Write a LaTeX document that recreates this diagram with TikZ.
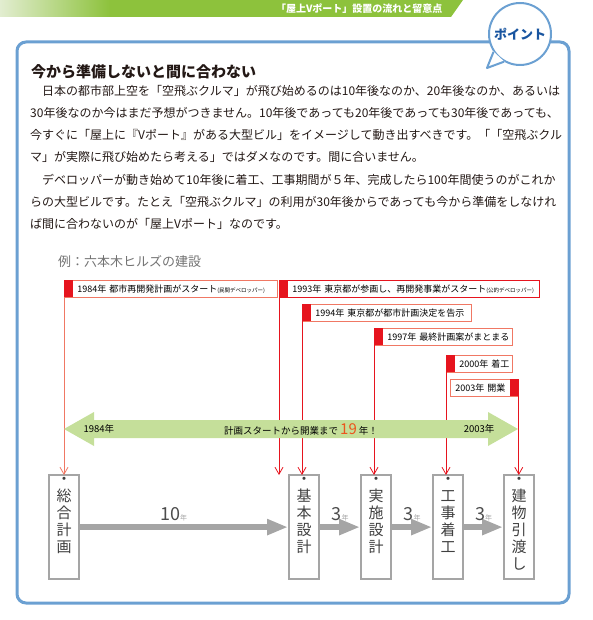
\documentclass[tikz,border=0pt]{standalone}
\usepackage{fontspec}
\setmainfont{Noto Sans CJK JP}
\usetikzlibrary{arrows.meta}

\definecolor{frameblue}{RGB}{107,160,210}
\definecolor{pointblue}{RGB}{25,85,160}
\definecolor{bannergreen}{RGB}{141,194,60}
\definecolor{bannerlight}{RGB}{226,237,208}
\definecolor{red1}{RGB}{230,20,30}
\definecolor{salmon1}{RGB}{240,120,100}
\definecolor{green2}{RGB}{197,223,154}
\definecolor{gray1}{RGB}{165,165,165}
\definecolor{text1}{RGB}{35,24,21}
\definecolor{orange1}{RGB}{235,85,30}

\tikzstyle{bodyline} = [anchor=west, inner sep=0pt, text=text1, font=\fontsize{12}{12}\selectfont]
\tikzstyle{event} = [draw=salmon1, line width=0.8pt, fill=white, inner xsep=2pt, inner ysep=0pt, minimum height=17pt, align=left, anchor=north west, font=\fontsize{9}{10}\selectfont]
\tikzstyle{flag} = [fill=red1, inner sep=0pt, minimum width=9pt, minimum height=17pt]
\tikzstyle{evline} = [draw=red1, line width=0.8pt, -{Straight Barb[length=7pt,width=8pt]}]
\tikzstyle{stepbox} = [draw=gray1, line width=2.2pt, fill=white, inner sep=0pt, minimum width=30pt, minimum height=104pt, anchor=north west, text=black!75, font=\fontsize{15}{17}\selectfont]
\tikzstyle{steparrow} = [draw=gray1, line width=6pt, -{Triangle[length=21pt,width=15pt]}]
\tikzstyle{steplabel} = [above, text=black!70, font=\fontsize{18}{18}\selectfont]

\newcommand{\tatecol}[1]{\parbox[c][100pt][t]{20pt}{\centering #1}}
\newcommand{\nen}{{\fontsize{7}{7}\selectfont\color{gray1}年}}
\newcommand{\kakko}[1]{{\fontsize{5.5}{6}\selectfont #1}}

\begin{document}
\begin{tikzpicture}[x=1pt, y=-1pt]
	\useasboundingbox (0,0) rectangle (592,620);

	% Banner
	\shade[left color=bannerlight, right color=bannergreen] (0,0) rectangle (110,17);
	\fill[bannergreen] (110,0) -- (463,0) -- (451,17) -- (110,17) -- cycle;
	\node[anchor=east, text=white, font=\fontsize{10}{10}\selectfont\bfseries] (banner) at (446,9) {「屋上Vポート」設置の流れと留意点};

	% Frame and bubble
	\draw[frameblue, line width=3pt, rounded corners=9pt] (17,42) rectangle (569,603);
	\node[circle, draw=frameblue, line width=2pt, fill=white, minimum size=62pt, text=pointblue, font=\fontsize{13}{13}\selectfont\bfseries] (point) at (520,34) {ポイント};
	\coordinate (tail) at (487,68);
	\fill[white] (point.212) -- (tail) -- (point.242) -- cycle;
	\draw[frameblue, line width=2pt, line join=round] (point.214) -- (tail) -- (point.240);

	% Text
	\node[anchor=west, inner sep=0pt, text=text1, font=\fontsize{15}{15}\selectfont\bfseries] (title) at (31,72) {今から準備しないと間に合わない};
	\node[bodyline] (l1) at (30,91) {　日本の都市部上空を「空飛ぶクルマ」が飛び始めるのは10年後なのか、20年後なのか、あるいは};
	\node[bodyline] (l2) at (30,113) {30年後なのか今はまだ予想がつきません。10年後であっても20年後であっても30年後であっても、};
	\node[bodyline] (l3) at (30,135) {今すぐに「屋上に『Vポート』がある大型ビル」をイメージして動き出すべきです。「「空飛ぶクル};
	\node[bodyline] (l4) at (30,157) {マ」が実際に飛び始めたら考える」ではダメなのです。間に合いません。};
	\node[bodyline] (l5) at (30,180) {　デベロッパーが動き始めて10年後に着工、工事期間が５年、完成したら100年間使うのがこれか};
	\node[bodyline] (l6) at (30,202) {らの大型ビルです。たとえ「空飛ぶクルマ」の利用が30年後からであっても今から準備をしなけれ};
	\node[bodyline] (l7) at (30,224) {ば間に合わないのが「屋上Vポート」なのです。};

	\node[anchor=west, inner sep=0pt, text=black!55, font=\fontsize{13}{13}\selectfont] (example) at (58,262) {例：六本木ヒルズの建設};

	% Events
	\node[event, text width=209pt] (ev84) at (64,280) {\mbox{\hspace*{11pt}1984年 都市再開発計画がスタート\kakko{(民間デベロッパー)}}};
	\node[event, draw=red1, text width=256pt] (ev93) at (279,280) {\mbox{\hspace*{11pt}1993年 東京都が参画し、再開発事業がスタート\kakko{(公的デベロッパー)}}};
	\node[event, text width=165pt] (ev94) at (302,304) {\mbox{\hspace*{11pt}1994年 東京都が都市計画決定を告示}};
	\node[event, text width=134pt] (ev97) at (374,328) {\mbox{\hspace*{11pt}1997年 最終計画案がまとまる}};
	\node[event, text width=62pt] (ev00) at (446,355) {\mbox{\hspace*{11pt}2000年 着工}};
	\node[event, text width=64pt] (ev03) at (450,379) {\mbox{\hspace*{3pt}2003年 開業}};
	\node[flag, anchor=north west] (fl84) at (ev84.north west) {};
	\node[flag, anchor=north west] (fl93) at (ev93.north west) {};
	\node[flag, anchor=north west] (fl94) at (ev94.north west) {};
	\node[flag, anchor=north west] (fl97) at (ev97.north west) {};
	\node[flag, anchor=north west] (fl00) at (ev00.north west) {};
	\node[flag, anchor=north east] (fl03) at (ev03.north east) {};

	% Steps
	\node[stepbox] (sogo) at (48,474) {\tatecol{・\\総\\合\\計\\画}};
	\node[stepbox] (kihon) at (288,474) {\tatecol{・\\基\\本\\設\\計}};
	\node[stepbox] (jisshi) at (360,474) {\tatecol{・\\実\\施\\設\\計}};
	\node[stepbox] (chakko) at (432,474) {\tatecol{・\\工\\事\\着\\工}};
	\node[stepbox] (hikiwatashi) at (503,474) {\tatecol{・\\建\\物\\引\\渡\\し}};

	\draw[evline, draw=salmon1] (fl84.south west) to ([yshift=-1pt] fl84.south west |- sogo.north);
	\draw[evline] (fl93.south west) to ([yshift=-1pt] fl93.south west |- kihon.north);
	\draw[evline] (fl94.south west) to ([yshift=-1pt] fl94.south west |- kihon.north);
	\draw[evline] (fl97.south west) to ([yshift=-1pt] fl97.south west |- jisshi.north);
	\draw[evline] (fl00.south west) to ([yshift=-1pt] fl00.south west |- chakko.north);
	\draw[evline] (fl03.south east) to ([yshift=-1pt] fl03.south east |- hikiwatashi.north);

	% Span
	\fill[green2] (64,429) -- (94,412) -- (94,420) -- (488,420) -- (488,412) -- (518,429) -- (488,446) -- (488,438) -- (94,438) -- (94,446) -- cycle;
	\node[anchor=west, font=\fontsize{9.5}{10}\selectfont] (y84) at (80,429) {1984年};
	\node[anchor=east, font=\fontsize{9.5}{10}\selectfont] (y03) at (498,429) {2003年};
	\node[font=\fontsize{9.5}{10}\selectfont] (span) at (301,429) {計画スタートから開業まで {\fontsize{15}{15}\selectfont\color{orange1}19} 年！};

	\draw[steparrow] (sogo.east) to node[steplabel, pos=0.45] {10\nen} (kihon.west);
	\draw[steparrow] (kihon.east) to node[steplabel] {3\nen} (jisshi.west);
	\draw[steparrow] (jisshi.east) to node[steplabel] {3\nen} (chakko.west);
	\draw[steparrow] (chakko.east) to node[steplabel] {3\nen} (hikiwatashi.west);
\end{tikzpicture}
\end{document}
